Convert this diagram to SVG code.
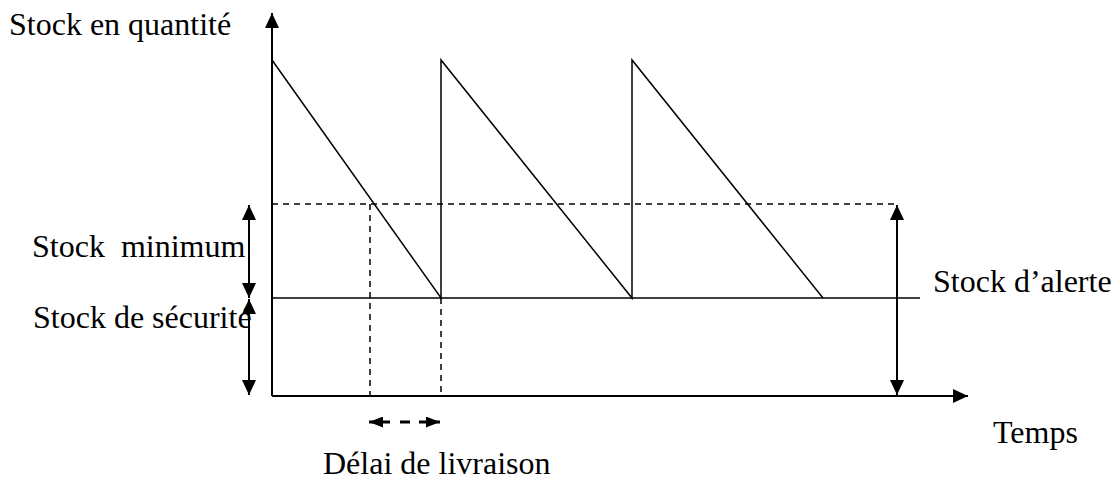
<svg xmlns="http://www.w3.org/2000/svg" width="1114" height="481" viewBox="0 0 1114 481">
<style>
.t{font-family:"Liberation Serif","Times New Roman",serif;font-size:32px;fill:#000}
.ax{stroke:#000;stroke-width:2;fill:none}
.ln{stroke:#000;stroke-width:1.5;fill:none}
.ds{stroke:#000;stroke-width:1.5;fill:none;stroke-dasharray:6 5}
.dl{stroke:#000;stroke-width:3;fill:none}
</style>
<defs>
<marker id="ah" viewBox="0 0 15 14" refX="15" refY="7" markerWidth="15" markerHeight="14" markerUnits="userSpaceOnUse" orient="auto-start-reverse"><path d="M0,0 L15,7 L0,14 z" fill="#000"/></marker>
<marker id="ahs" viewBox="0 0 14 11" refX="14" refY="5.5" markerWidth="14" markerHeight="11" markerUnits="userSpaceOnUse" orient="auto"><path d="M0,0 L14,5.5 L0,11 z" fill="#000"/></marker>
</defs>
<g id="connectors">
<line class="ax" x1="272" y1="396" x2="272" y2="13" marker-end="url(#ah)"/>
<line class="ax" x1="272" y1="396" x2="968" y2="396" marker-end="url(#ah)"/>
<polyline class="ln" points="272,60 441,298 441,60 632,298 632,60 823,298"/>
<line class="ln" x1="272" y1="298" x2="920" y2="298"/>
<line class="ds" x1="272" y1="204" x2="897" y2="204"/>
<line class="ds" x1="370" y1="204" x2="370" y2="396"/>
<line class="ds" x1="441" y1="298" x2="441" y2="396"/>
<line class="ax" x1="249" y1="205" x2="249" y2="298" marker-start="url(#ah)" marker-end="url(#ah)"/>
<line class="ax" x1="249" y1="299" x2="249" y2="395" marker-start="url(#ah)" marker-end="url(#ah)"/>
<line class="ax" x1="897" y1="205" x2="897" y2="395" marker-start="url(#ah)" marker-end="url(#ah)"/>
<line class="dl" x1="390" y1="422" x2="369" y2="422" marker-end="url(#ahs)"/>
<line class="dl" x1="400" y1="422" x2="410" y2="422"/>
<line class="dl" x1="419" y1="422" x2="440" y2="422" marker-end="url(#ahs)"/>
</g>
<g id="label-quantite"><text class="t" x="9" y="35">Stock en quantité</text></g>
<g id="label-minimum"><text class="t" x="32" y="257" xml:space="preserve">Stock  minimum</text></g>
<g id="label-securite"><text class="t" x="33" y="328">Stock de sécurité</text></g>
<g id="label-alerte"><text class="t" x="933" y="292">Stock d’alerte</text></g>
<g id="label-temps"><text class="t" x="993" y="443">Temps</text></g>
<g id="label-delai"><text class="t" x="323" y="474">Délai de livraison</text></g>
</svg>
